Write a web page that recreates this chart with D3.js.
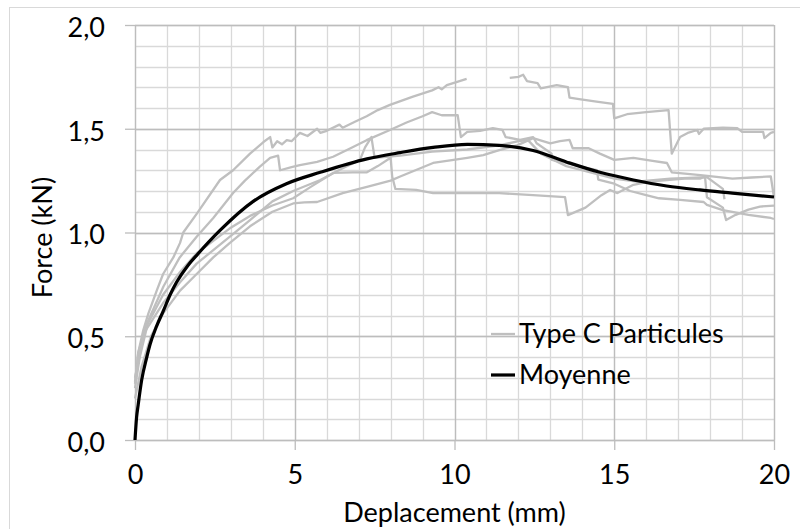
<!DOCTYPE html>
<html><head><meta charset="utf-8">
<script src="https://cdn.jsdelivr.net/npm/d3@7/dist/d3.min.js"></script>
<style>
body{margin:0;background:#fff}
svg text{font-family:Lato,"Open Sans",sans-serif;fill:#000}
</style>
</head><body>
<svg id="chart" width="800" height="529"></svg>
<script>
// ---- data ----
const xTickValues = [0, 5, 10, 15, 20];
const yTickValues = [0, 0.5, 1.0, 1.5, 2.0];
const xMinorValues = [0,1,2,3,4,5,6,7,8,9,10,11,12,13,14,15,16,17,18,19,20];
const yMinorValues = [0,0.1,0.2,0.3,0.4,0.5,0.6,0.7,0.8,0.9,1.0,1.1,1.2,1.3,1.4,1.5,1.6,1.7,1.8,1.9,2.0];
const legendLabels = ["Type C Particules", "Moyenne"];
const xTitle = "Deplacement (mm)";
const yTitle = "Force (kN)";

const specimenA = [[0,0.27],[0.1,0.42],[0.26,0.53],[0.42,0.61],[0.68,0.72],[0.88,0.8],[1.2,0.88],[1.41,0.95],[1.51,1.0],[1.93,1.09],[2.66,1.253],[3.07,1.3],[3.6,1.38],[4.02,1.436],[4.23,1.46],[4.3,1.41],[4.45,1.44],[4.6,1.425],[4.75,1.445],[4.9,1.44],[5.16,1.48],[5.4,1.465],[5.7,1.5],[5.8,1.48],[6.0,1.49],[6.4,1.52],[6.5,1.505],[6.9,1.535],[7.25,1.56],[7.6,1.59],[7.98,1.615],[8.7,1.655],[9.3,1.685],[9.5,1.7],[9.6,1.69],[9.76,1.71],[10.38,1.74],[10.4,null],[11.7,null],[11.73,1.745],[12.0,1.75],[12.15,1.76],[12.27,1.73],[12.6,1.72],[12.7,1.695],[13.2,1.71],[13.55,1.70],[13.6,1.65],[13.9,1.643],[14.5,1.63],[14.96,1.62],[15.0,1.55],[15.4,1.57],[16.0,1.58],[16.7,1.59],[16.8,1.38],[17.06,1.46],[17.3,1.48],[17.6,1.494],[17.65,1.475],[17.8,1.5],[18.4,1.505],[18.85,1.503],[19.0,1.485],[19.66,1.485],[19.7,1.455],[19.9,1.48],[20,1.485]];
const specimenB = [[0,0.28],[0.1,0.42],[0.37,0.56],[0.89,0.74],[1.4,0.88],[1.93,0.98],[2.45,1.07],[3.07,1.19],[3.44,1.25],[3.9,1.316],[4.23,1.36],[4.48,1.37],[4.54,1.30],[4.9,1.315],[5.16,1.325],[5.7,1.34],[6.2,1.365],[6.73,1.405],[7.25,1.445],[7.98,1.494],[8.5,1.53],[9.0,1.56],[9.3,1.58],[9.6,1.565],[10.1,1.566],[10.2,1.46],[10.4,1.485],[10.8,1.49],[11.2,1.503],[11.5,1.494],[11.6,1.46],[12.05,1.446],[12.46,1.46],[12.57,1.43],[13.04,1.38],[13.05,1.35],[13.5,1.335],[14.0,1.315],[14.46,1.30],[14.5,1.255],[15.0,1.235],[15.5,1.2],[16.0,1.18],[16.4,1.165],[17.06,1.157],[17.8,1.147],[17.9,1.133],[18.4,1.108],[19.2,1.085],[19.9,1.07],[20,1.065]];
const specimenC = [[0,0.25],[0.15,0.4],[0.4,0.56],[0.88,0.7],[1.41,0.81],[1.93,0.9],[2.97,1.02],[3.6,1.08],[4.3,1.13],[4.95,1.165],[5.5,1.22],[6.2,1.287],[6.8,1.29],[7.26,1.29],[7.6,1.32],[8.0,1.36],[8.05,1.27],[8.15,1.21],[8.8,1.205],[9.33,1.19],[10.5,1.19],[11.4,1.19],[12.46,1.18],[13.46,1.17],[13.55,1.084],[14.1,1.12],[14.6,1.18],[14.87,1.205],[15.1,1.19],[15.6,1.23],[16.1,1.245],[16.65,1.253],[17.2,1.26],[17.7,1.26],[17.84,1.27],[17.9,1.17],[18.4,1.12],[18.5,1.06],[18.8,1.085],[19.2,1.11],[19.56,1.125],[20,1.13]];
const specimenD = [[0,0.2],[0.2,0.35],[0.5,0.5],[0.88,0.61],[1.41,0.72],[1.93,0.8],[2.45,0.88],[2.97,0.95],[3.6,1.03],[4.3,1.1],[4.95,1.14],[5.3,1.145],[5.7,1.147],[6.5,1.19],[7.26,1.22],[8.0,1.25],[8.3,1.27],[9.33,1.335],[10.4,1.36],[10.9,1.373],[11.4,1.397],[11.96,1.42],[12.46,1.455],[13.0,1.43],[13.3,1.44],[13.6,1.446],[13.7,1.406],[14.2,1.406],[14.55,1.38],[15.0,1.35],[15.6,1.36],[16.2,1.345],[16.65,1.335],[16.8,1.29],[17.7,1.277],[18.7,1.26],[19.3,1.265],[19.9,1.27],[20,1.17]];
const specimenE = [[0,0.3],[0.3,0.52],[0.88,0.66],[1.41,0.76],[1.93,0.85],[2.97,0.98],[3.6,1.06],[4.3,1.15],[4.95,1.2],[5.8,1.253],[6.5,1.31],[7.04,1.35],[7.2,1.41],[7.4,1.46],[7.5,1.36],[8.3,1.37],[9.3,1.39],[10.4,1.40],[11.4,1.42],[12.0,1.44],[12.3,1.445],[12.7,1.38],[13.5,1.32],[14.5,1.28],[15.0,1.26],[15.7,1.245],[16.75,1.26],[17.9,1.267],[18.4,1.21],[18.45,1.16]];
const specimens = [specimenA, specimenB, specimenC, specimenD, specimenE];
const moyenne = [[0,0],[0.05,0.11],[0.1,0.17],[0.21,0.29],[0.37,0.4],[0.47,0.46],[0.68,0.55],[0.88,0.62],[1.1,0.7],[1.3,0.76],[1.65,0.84],[1.93,0.89],[2.66,1.01],[3.7,1.15],[4.74,1.235],[5.8,1.29],[7.26,1.355],[8.3,1.385],[9.33,1.41],[10.4,1.425],[11.4,1.42],[12.46,1.395],[13.5,1.34],[14.55,1.29],[15.6,1.253],[16.64,1.224],[17.68,1.205],[18.7,1.19],[20,1.171]];

// ---- layout ----
const svg = d3.select("#chart");
const W = 800, H = 529;
const FS = 27;
const m = {left:135, right:26, top:25, bottom:89};
const x = d3.scaleLinear().domain([0,20]).range([m.left, W - m.right]);
const y = d3.scaleLinear().domain([0,2]).range([H - m.bottom, m.top]);
const fmt = d => d3.format(".1f")(d).replace(".", ",");

// outer chart border
svg.append("rect").attr("x",9.5).attr("y",7.5).attr("width",W).attr("height",H)
  .attr("fill","none").attr("stroke","#d9d9d9").attr("stroke-width",1);

// minor grid
const g = svg.append("g");
g.selectAll(".vx").data(xMinorValues).join("line")
  .attr("x1",d=>Math.round(x(d))+0.5).attr("x2",d=>Math.round(x(d))+0.5)
  .attr("y1",y(0)).attr("y2",y(2)).attr("stroke","#d9d9d9").attr("stroke-width",1.3);
g.selectAll(".hy").data(yMinorValues).join("line")
  .attr("y1",d=>Math.round(y(d))+0.5).attr("y2",d=>Math.round(y(d))+0.5)
  .attr("x1",x(0)).attr("x2",x(20)).attr("stroke","#d9d9d9").attr("stroke-width",1.3);
// major grid
g.selectAll(".mx").data(xTickValues).join("line")
  .attr("x1",d=>Math.round(x(d))+0.5).attr("x2",d=>Math.round(x(d))+0.5)
  .attr("y1",y(0)).attr("y2",y(2)).attr("stroke","#bdbdbd").attr("stroke-width",1.3);
g.selectAll(".my").data(yTickValues).join("line")
  .attr("y1",d=>Math.round(y(d))+0.5).attr("y2",d=>Math.round(y(d))+0.5)
  .attr("x1",x(0)).attr("x2",x(20)).attr("stroke","#bdbdbd").attr("stroke-width",1.3);

// axes
const xAxis = d3.axisBottom(x).tickValues(xTickValues).tickSize(10).tickPadding(15).tickFormat(d3.format("d"));
const yAxis = d3.axisLeft(y).tickValues(yTickValues).tickSize(10).tickPadding(20).tickFormat(fmt);
const gx = svg.append("g").attr("transform",`translate(0,${y(0)})`).call(xAxis);
const gy = svg.append("g").attr("transform",`translate(${x(0)},0)`).call(yAxis);
[gx, gy].forEach(a => {
  a.select(".domain").remove();
  a.selectAll(".tick line").attr("stroke","#bdbdbd").attr("stroke-width",1.3);
  a.selectAll(".tick text").attr("font-size",FS).attr("font-family","Lato,'Open Sans',sans-serif").attr("fill","#000");
});
gy.selectAll(".tick text").attr("dy","0.42em");

// curves
const line = d3.line().defined(d => d[1] != null).x(d => x(d[0])).y(d => y(d[1]));
svg.append("g").selectAll("path").data(specimens).join("path")
  .attr("d", line).attr("fill","none").attr("stroke","#bfbfbf").attr("stroke-width",2.3)
  .attr("stroke-linejoin","round");
svg.append("path").datum(moyenne)
  .attr("d", d3.line().x(d=>x(d[0])).y(d=>y(d[1])).curve(d3.curveMonotoneX))
  .attr("fill","none").attr("stroke","#000").attr("stroke-width",3.2);

// titles
svg.append("text").attr("x",(x(0)+x(20))/2).attr("y",522).attr("text-anchor","middle")
  .attr("font-size",FS).text(xTitle);
svg.append("text").attr("transform",`translate(52,${(y(0)+y(2))/2+5}) rotate(-90)`)
  .attr("text-anchor","middle").attr("font-size",FS).text(yTitle);

// legend
const legend = svg.append("g");
const legendColors = ["#bfbfbf","#000"];
const legendY = [334, 375];
legendLabels.forEach((lab,i) => {
  legend.append("line").attr("x1",491).attr("x2",515).attr("y1",legendY[i]).attr("y2",legendY[i])
    .attr("stroke",legendColors[i]).attr("stroke-width", i===0?2.3:3.2);
  legend.append("text").attr("x",519).attr("y",legendY[i]+9).attr("font-size",FS).text(lab);
});
</script>
</body></html>
